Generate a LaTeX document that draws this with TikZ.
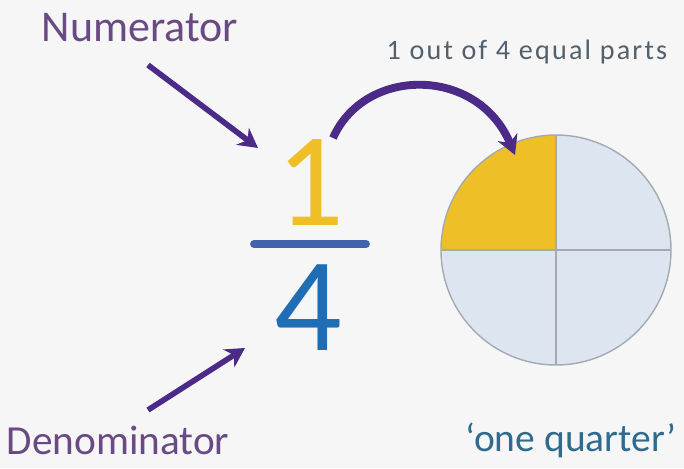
\documentclass[tikz,border=0pt]{standalone}
\usepackage{fontspec}
\setmainfont{Carlito}
\usepackage{xcolor}
\usetikzlibrary{arrows, arrows.meta, positioning}

\definecolor{fundo}{HTML}{F6F6F6}
\definecolor{rotulo}{HTML}{6A4A82}
\definecolor{seta}{HTML}{4B2A88}
\definecolor{amarelo}{HTML}{EFBF28}
\definecolor{azul}{HTML}{1F6DB5}
\definecolor{barra}{HTML}{4262AB}
\definecolor{cinza}{HTML}{52606C}
\definecolor{quarto}{HTML}{2F6B8E}
\definecolor{claro}{HTML}{DCE5F0}
\definecolor{borda}{HTML}{A3AAB2}

\begin{document}
\begin{tikzpicture}[x=0.02cm, y=0.02cm]
    \tikzstyle{rotulo} = [inner sep=0pt, text=rotulo, font=\fontsize{23.5}{28}\selectfont]
    \tikzstyle{digito} = [inner sep=0pt, font=\fontsize{76}{80}\selectfont]
    \tikzstyle{arrow} = [line width=3.2pt, seta, -{Stealth[length=11pt, width=12pt]}]

    % fundo e margens da figura
    \useasboundingbox (0,0) rectangle (684,468);
    \fill [fundo] (0,0) rectangle (684,468);

    \node (numlbl) [rotulo, font=\fontsize{25}{28}\selectfont] at (140,440) {Numerator};
    \node (denlbl) [rotulo] at (118,28) {Denominator};

    \node (one) [digito, text=amarelo] at (310,285) {1};
    \node (four) [digito, text=azul] at (308,160) {4};
    \coordinate (barL) at (254,224);
    \coordinate (barR) at (366,224);
    \draw [barra, line width=4.5pt, line cap=round] (barL) -- (barR);

    % o circulo dividido em quatro partes
    \coordinate (c) at (556,218);
    \fill [claro] (c) circle (115);
    \fill [amarelo] (c) -- (441,218) arc (180:90:115) -- cycle;
    \draw [borda, line width=0.8pt] (c) circle (115);
    \draw [borda, line width=0.8pt] (441,218) -- (671,218);
    \draw [borda, line width=0.8pt] (556,103) -- (556,333);

    \node (parts) [inner sep=0pt, text=cinza,
        font=\fontsize{16}{18}\selectfont\addfontfeatures{LetterSpace=8}]
        at (527,416) {1 out of 4 equal parts};
    \node (quarter) [inner sep=0pt, text=quarto, font=\fontsize{22.5}{26}\selectfont]
        at (571,28) {‘one quarter’};

    \coordinate (numtail) at (148,403);
    \coordinate (numtip) at (258,320);
    \coordinate (dentail) at (148,58);
    \coordinate (dentip) at (245,120);
    \coordinate (oneout) at (333,330);
    \coordinate (slice) at (515,313);
    \draw [arrow] (numtail) -- (numtip);
    \draw [arrow] (dentail) -- (dentip);
    \draw [arrow, line width=4.5pt] (oneout) .. controls (365,402) and (478,402) .. (slice);
\end{tikzpicture}
\end{document}
